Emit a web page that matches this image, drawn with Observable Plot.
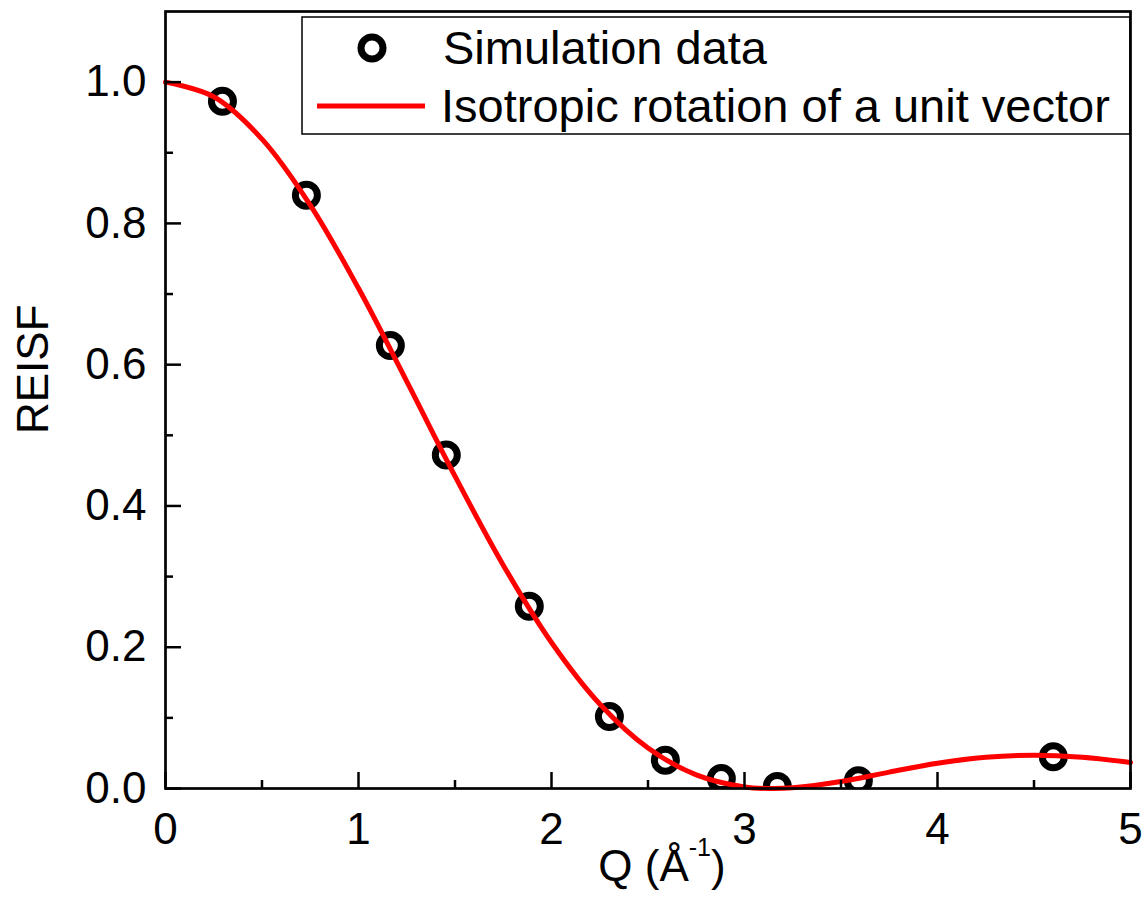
<!DOCTYPE html>
<html><head><meta charset="utf-8">
<script src="https://cdn.jsdelivr.net/npm/d3@7"></script>
<script src="https://cdn.jsdelivr.net/npm/@observablehq/plot@0.6"></script>
<style>
body{margin:0;background:#fff;}
svg{font-family:"Liberation Sans",Arial,sans-serif;}
</style>
</head><body><div id="chart"></div>
<script>
// Simulation data (circles)
const simQ = [0.295, 0.73, 1.165, 1.455, 1.885, 2.30, 2.59, 2.88, 3.17, 3.59, 4.60];
const simREISF = [0.973, 0.840, 0.627, 0.472, 0.258, 0.102, 0.040, 0.014, 0.003, 0.011, 0.045];
// Isotropic rotation of a unit vector (red curve)
const modelQ = [0, 0.25, 0.5, 0.75, 1, 1.25, 1.5, 1.75, 2, 2.25, 2.5, 2.75, 3, 3.14, 3.25, 3.5, 3.75, 4, 4.25, 4.5, 4.75, 5];
const modelREISF = [1, 0.9793, 0.9194, 0.8260, 0.7081, 0.5764, 0.4422, 0.3162, 0.2067, 0.1196, 0.0573, 0.0193, 0.0022, 0.0000, 0.0011, 0.0100, 0.0232, 0.0358, 0.0443, 0.0472, 0.0443, 0.0368];
// Ticks
const xMajorTicks = [0, 1, 2, 3, 4, 5];
const xMinorTicks = [0.5, 1.5, 2.5, 3.5, 4.5];
const yMajorTicks = [0, 0.2, 0.4, 0.6, 0.8, 1.0];
const yMinorTicks = [0.1, 0.3, 0.5, 0.7, 0.9];
// Labels
const yLabel = "REISF";
const xLabelMain = "Q (Å";
const xLabelSup = "-1";
const xLabelEnd = ")";
const legendLabels = ["Simulation data", "Isotropic rotation of a unit vector"];

const sim = simQ.map((q, i) => ({q, v: simREISF[i]}));
const model = modelQ.map((q, i) => ({q, v: modelREISF[i]}));

const plot = Plot.plot({
  width: 1145, height: 907,
  marginLeft: 165, marginRight: 15, marginTop: 11, marginBottom: 119,
  style: {fontFamily: '"Liberation Sans", Arial, sans-serif', fontSize: "44px", color: "black", background: "white", overflow: "visible"},
  x: {domain: [0, 5]},
  y: {domain: [0, 1.1]},
  marks: [
    Plot.dot(sim, {x: "q", y: "v", r: 11, stroke: "black", strokeWidth: 7, fill: "none", clip: true}),
    Plot.line(model, {x: "q", y: "v", stroke: "#ff0000", strokeWidth: 5, curve: "catmull-rom"}),
    Plot.axisX({ticks: xMajorTicks, tickSize: -16, tickPadding: 40, tickFormat: d3.format("d"), label: null, strokeWidth: 2.5}),
    Plot.axisX({ticks: xMinorTicks, tickSize: -8, tickFormat: () => "", label: null, strokeWidth: 2.5}),
    Plot.axisY({ticks: yMajorTicks, tickSize: -16, tickPadding: 35, tickFormat: d3.format(".1f"), label: null, strokeWidth: 2.5}),
    Plot.axisY({ticks: yMinorTicks, tickSize: -8, tickFormat: () => "", label: null, strokeWidth: 2.5}),
    Plot.frame({stroke: "black", strokeWidth: 2.7}),
    Plot.text([yLabel], {frameAnchor: "left", rotate: -90, dx: -132, dy: 34, fontSize: 44}),
    Plot.text([xLabelMain], {frameAnchor: "bottom", dx: 14, dy: 92, fontSize: 44})
  ]
});
document.getElementById("chart").appendChild(plot);

const svg = d3.select(plot);
// superscript in x label
const t = svg.selectAll("text").filter(function(){ return this.textContent === xLabelMain; });
t.text(null);
t.append("tspan").text(xLabelMain);
t.append("tspan").attr("dy", -25).attr("font-size", 25).text(xLabelSup);
t.append("tspan").attr("dy", 25).text(xLabelEnd);

// legend
const lg = svg.append("g").attr("text-anchor", "start");
lg.append("rect").attr("x", 302).attr("y", 17).attr("width", 828).attr("height", 117)
  .attr("fill", "white").attr("stroke", "black").attr("stroke-width", 1.5);
lg.append("circle").attr("cx", 372).attr("cy", 48).attr("r", 11)
  .attr("fill", "none").attr("stroke", "black").attr("stroke-width", 7);
lg.append("line").attr("x1", 317).attr("x2", 425).attr("y1", 106).attr("y2", 106)
  .attr("stroke", "#ff0000").attr("stroke-width", 5);
lg.append("text").attr("x", 443).attr("y", 64).attr("font-size", 47).attr("fill", "black").text(legendLabels[0]);
lg.append("text").attr("x", 441).attr("y", 122).attr("font-size", 47).attr("fill", "black").text(legendLabels[1]);
svg.select("[aria-label=frame]").raise();
</script>
</body></html>
